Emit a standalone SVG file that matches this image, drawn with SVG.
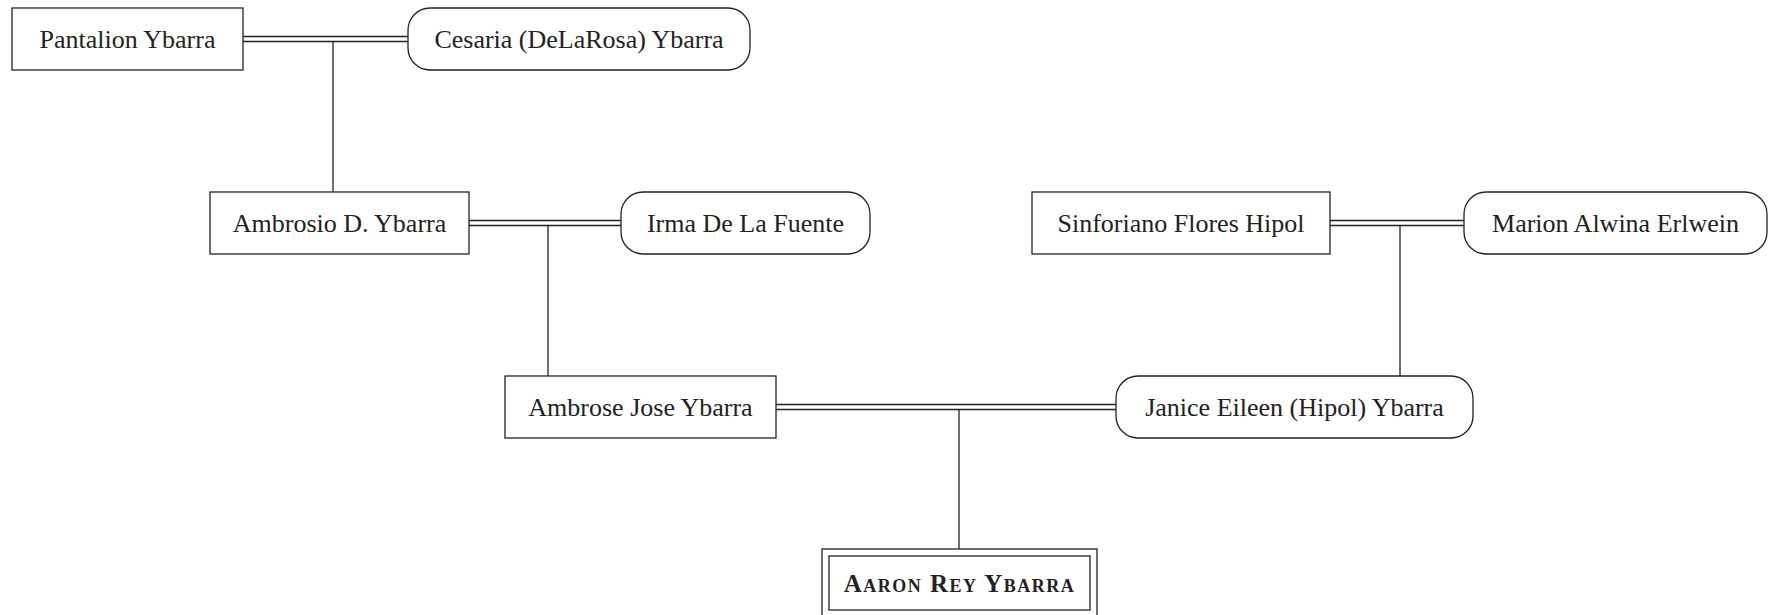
<svg xmlns="http://www.w3.org/2000/svg" width="1769" height="615" viewBox="0 0 1769 615">
<style>
.box{fill:#fff;stroke:#222;stroke-width:1.3}
.t{font-family:"Liberation Serif","DejaVu Serif",serif;font-size:26px;fill:#222;text-anchor:middle;dominant-baseline:central}
.main{font-family:"Liberation Serif","DejaVu Serif",serif;font-size:25px;font-weight:bold;font-variant:small-caps;letter-spacing:1.5px;fill:#222;text-anchor:middle;dominant-baseline:central}
.c{stroke:#222;stroke-width:1.3;fill:none}
</style>
<rect width="1769" height="615" fill="#fff"/>
<g id="connectors">
<path class="c" d="M243 36.5H408M243 41.5H408M333 41.5V192"/>
<path class="c" d="M469 220.5H621M469 225.5H621M548 225.5V376"/>
<path class="c" d="M1330 220.5H1464M1330 225.5H1464M1400 225.5V376"/>
<path class="c" d="M776 404.5H1116M776 409.5H1116M959 409.5V549"/>
</g>
<g id="pantalion"><rect class="box" x="12" y="8" width="231" height="62"/><text class="t" x="127.5" y="39">Pantalion Ybarra</text></g>
<g id="cesaria"><rect class="box" x="408" y="8" width="342" height="62" rx="22"/><text class="t" x="579" y="39">Cesaria (DeLaRosa) Ybarra</text></g>
<g id="ambrosio"><rect class="box" x="210" y="192" width="259" height="62"/><text class="t" x="339.5" y="223">Ambrosio D. Ybarra</text></g>
<g id="irma"><rect class="box" x="621" y="192" width="249" height="62" rx="22"/><text class="t" x="745.5" y="223">Irma De La Fuente</text></g>
<g id="sinforiano"><rect class="box" x="1032" y="192" width="298" height="62"/><text class="t" x="1181" y="223">Sinforiano Flores Hipol</text></g>
<g id="marion"><rect class="box" x="1464" y="192" width="303" height="62" rx="22"/><text class="t" x="1615.5" y="223">Marion Alwina Erlwein</text></g>
<g id="ambrose"><rect class="box" x="505" y="376" width="271" height="62"/><text class="t" x="640.5" y="407">Ambrose Jose Ybarra</text></g>
<g id="janice"><rect class="box" x="1116" y="376" width="357" height="62" rx="22"/><text class="t" x="1294.5" y="407">Janice Eileen (Hipol) Ybarra</text></g>
<g id="aaron"><rect class="box" x="822" y="549" width="275" height="80"/><rect class="box" x="829" y="556" width="261" height="54"/><text class="main" x="959.5" y="583">Aaron Rey Ybarra</text></g>
</svg>
